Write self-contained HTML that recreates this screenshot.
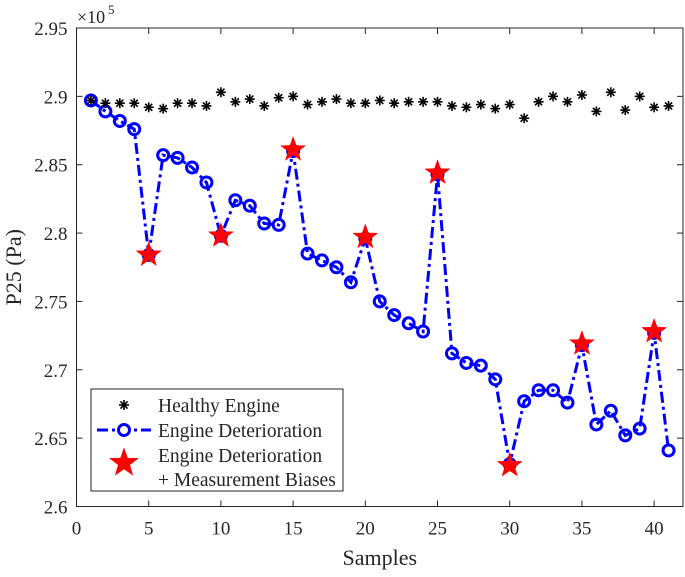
<!DOCTYPE html>
<html><head><meta charset="utf-8"><style>
body{margin:0;background:#fff}
svg text{font-family:"Liberation Serif",serif;fill:#262626}
</style></head><body>
<svg id="chart" width="685" height="572" xmlns="http://www.w3.org/2000/svg"></svg>
<script>
const samples=[1,2,3,4,5,6,7,8,9,10,11,12,13,14,15,16,17,18,19,20,21,22,23,24,25,26,27,28,29,30,31,32,33,34,35,36,37,38,39,40,41];
const healthy=[2.897,2.895,2.895,2.895,2.892,2.891,2.895,2.895,2.893,2.903,2.896,2.898,2.893,2.899,2.900,2.894,2.896,2.898,2.895,2.895,2.897,2.895,2.896,2.896,2.896,2.893,2.892,2.894,2.891,2.894,2.884,2.896,2.900,2.896,2.901,2.889,2.903,2.890,2.900,2.892,2.893];
const deterioration=[2.897,2.889,2.882,2.876,2.784,2.857,2.855,2.848,2.837,2.798,2.824,2.820,2.807,2.806,2.860,2.785,2.780,2.775,2.764,2.796,2.750,2.740,2.734,2.728,2.843,2.712,2.705,2.703,2.693,2.631,2.677,2.685,2.685,2.676,2.718,2.660,2.670,2.652,2.657,2.727,2.641];
const biasSamples=[5,10,15,20,25,30,35,40];
const biasValues=[2.784,2.798,2.861,2.797,2.844,2.630,2.719,2.728];
const xTicks=[0,5,10,15,20,25,30,35,40];
const yTicks=[2.6,2.65,2.7,2.75,2.8,2.85,2.9,2.95];
const yTickLabels=["2.6","2.65","2.7","2.75","2.8","2.85","2.9","2.95"];

const L=76.5,R=683,T=28,B=506.5,xMin=0,xMax=42,yMin=2.6,yMax=2.95;
const X=v=>L+(v-xMin)/(xMax-xMin)*(R-L);
const Y=v=>B-(v-yMin)/(yMax-yMin)*(B-T);
const svg=document.getElementById('chart');
const NS='http://www.w3.org/2000/svg';
function mk(tag,attrs,parent){const e=document.createElementNS(NS,tag);for(const k in attrs)e.setAttribute(k,attrs[k]);(parent||svg).appendChild(e);return e;}
function txt(s,attrs,parent){const e=mk('text',attrs,parent);e.textContent=s;return e;}

const box=mk('rect',{x:L,y:T,width:R-L,height:B-T,fill:'none',stroke:'#262626','stroke-width':1});


xTicks.forEach(t=>{
  const g=mk('g',{});
  
  
  mk('line',{x1:X(t),x2:X(t),y1:B,y2:B-6,stroke:'#262626'},g);
  mk('line',{x1:X(t),x2:X(t),y1:T,y2:T+6,stroke:'#262626'},g);
  txt(String(t),{x:X(t),y:B+28,'text-anchor':'middle','font-size':19},g);
});
yTicks.forEach((t,i)=>{
  const g=mk('g',{});
  
  
  mk('line',{x1:L,x2:L+6,y1:Y(t),y2:Y(t),stroke:'#262626'},g);
  mk('line',{x1:R,x2:R-6,y1:Y(t),y2:Y(t),stroke:'#262626'},g);
  txt(yTickLabels[i],{x:L-9,y:Y(t)+7,'text-anchor':'end','font-size':19},g);
});
const ex=txt('×10',{x:77,y:23,'font-size':18});


const ex5=txt('5',{x:108,y:14,'font-size':13});


const xt=txt('Samples',{x:(L+R)/2,y:565,'text-anchor':'middle','font-size':22});


const yt=txt('P25 (Pa)',{x:0,y:0,'text-anchor':'middle','font-size':22,transform:`translate(21,${(T+B)/2}) rotate(-90)`});



function star(cx,cy,r,parent){let p=[];for(let i=0;i<10;i++){const a=-Math.PI/2+i*Math.PI/5;const rr=i%2?r*0.4:r;p.push((cx+rr*Math.cos(a)).toFixed(1)+','+(cy+rr*Math.sin(a)).toFixed(1));}return mk('polygon',{points:p.join(' '),fill:'#ff0000',stroke:'#ff0000','stroke-width':0.5},parent);}
function asterisk(cx,cy,r,parent){const g=mk('g',{stroke:'#000','stroke-width':1.6},parent);for(let i=0;i<4;i++){const a=i*Math.PI/4;mk('line',{x1:cx-r*Math.cos(a),y1:cy-r*Math.sin(a),x2:cx+r*Math.cos(a),y2:cy+r*Math.sin(a)},g);}return g;}

const line=mk('polyline',{points:samples.map((s,i)=>X(s)+','+Y(deterioration[i])).join(' '),fill:'none',stroke:'#0000ff','stroke-width':3,'stroke-dasharray':'11,4,3,4'});


samples.forEach((s,i)=>{
  const c=mk('circle',{cx:X(s),cy:Y(deterioration[i]),r:5.5,fill:'none',stroke:'#0000ff','stroke-width':3});
  
  
});
samples.forEach((s,i)=>{
  const a=asterisk(X(s),Y(healthy[i]),5);
  
  
});
biasSamples.forEach((s,i)=>{
  const st=star(X(s),Y(biasValues[i]),13);
  
  
});

const lg=mk('g',{});


mk('rect',{x:91,y:389,width:252,height:102,fill:'#fff',stroke:'#262626','stroke-width':1},lg);
const e1=mk('g',{},lg);


asterisk(124,405,5,e1);
txt('Healthy Engine',{x:158,y:412,'font-size':19.5},e1);
const e2=mk('g',{},lg);


mk('line',{x1:97,x2:151,y1:430,y2:430,stroke:'#0000ff','stroke-width':3,'stroke-dasharray':'11,4,3,4'},e2);
mk('circle',{cx:124,cy:430,r:5.5,fill:'#fff',stroke:'#0000ff','stroke-width':3},e2);
txt('Engine Deterioration',{x:158,y:437,'font-size':19.5},e2);
const e3=mk('g',{},lg);


star(124,463,15,e3);
txt('Engine Deterioration',{x:158,y:462,'font-size':19.5},e3);
txt('+ Measurement Biases',{x:158,y:486,'font-size':19.5},e3);
</script>
</body></html>
